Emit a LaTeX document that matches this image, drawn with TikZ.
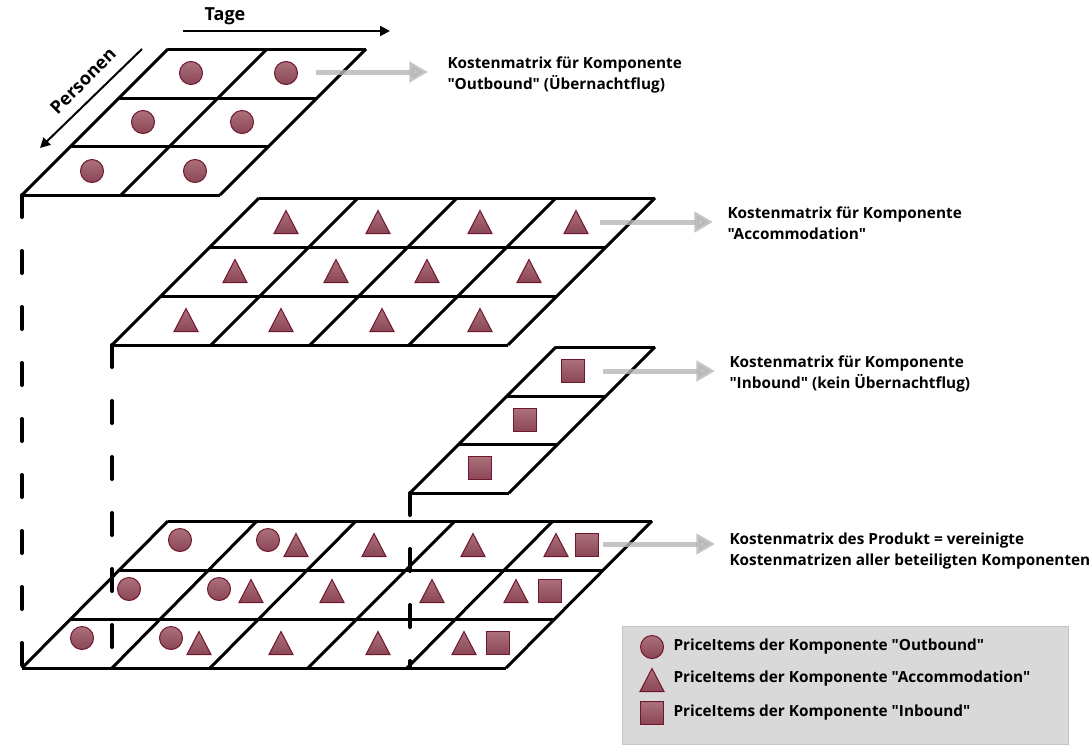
\documentclass[tikz,border=0pt]{standalone}
\usepackage{fontspec}
\setmainfont{Open Sans}[Ligatures=TeXOff]
\usetikzlibrary{arrows.meta}

\definecolor{mkTop}{RGB}{172,112,124}
\definecolor{mkBot}{RGB}{138,70,86}
\definecolor{mkLine}{RGB}{112,22,44}
\definecolor{arrGray}{RGB}{182,182,182}
\definecolor{lgFill}{RGB}{217,217,217}
\definecolor{lgLine}{RGB}{196,196,196}

\tikzset{every picture/.style={line width=0.75pt}}

\begin{document}
\begin{tikzpicture}[x=0.75pt,y=0.75pt,yscale=-1,xscale=1,
  gridln/.style={line width=2.25pt},
  dashln/.style={line width=3pt,line cap=round,dash pattern=on 16.5pt off 25.5pt},
  mk/.style={draw=mkLine,line width=0.75pt,top color=mkTop,bottom color=mkBot},
  grayarr/.style={draw=arrGray,opacity=0.8,line width=3.75pt,-{Triangle[length=14pt,width=15pt]}},
  darr/.style={line width=1.5pt,-{Triangle[length=7.5pt,width=7.5pt]}},
  lbl/.style={font=\bfseries\fontsize{11.5}{15.75}\selectfont,align=left,inner sep=0pt,anchor=west},
  ttl/.style={font=\bfseries\fontsize{13.5}{16}\selectfont,inner sep=0pt},
  outb/.pic={\path[mk] (0,0) circle (11.5);},
  accom/.pic={\path[mk] (-12,-11.5) -- (12,-11.5) -- (0,11.5) -- cycle;},
  inb/.pic={\path[mk] (-11.5,-11.5) rectangle (11.5,11.5);}]
\useasboundingbox (0,0) rectangle (1091,750);

%Straight Lines: matrix "Outbound"
\draw[gridln] (168,49) -- (366,49) (119,98) -- (317,98) (71,146) -- (269,146) (22,195) -- (220,195);
\draw[gridln] (168,49) -- (22,195) (267,49) -- (121,195) (366,49) -- (220,195);
%Straight Lines: matrix "Accommodation"
\draw[gridln] (259,198) -- (655,198) (210,247) -- (606,247) (161,296) -- (557,296) (112,345) -- (508,345);
\draw[gridln] (259,198) -- (112,345) (358,198) -- (211,345) (457,198) -- (310,345) (556,198) -- (409,345) (655,198) -- (508,345);
%Straight Lines: matrix "Inbound"
\draw[gridln] (556,347) -- (655,347) (507,396) -- (606,396) (459,444) -- (558,444) (410,493) -- (509,493);
\draw[gridln] (556,347) -- (410,493) (655,347) -- (509,493);
%Straight Lines: matrix of the product
\draw[gridln] (168,521) -- (652,521) (119,570) -- (603,570) (71,619) -- (555,619) (22,668) -- (506,668);
\draw[gridln] (168,521) -- (22,668) (257,521) -- (112,668) (356,521) -- (210,668) (455,521) -- (308,668) (553,521) -- (407,668) (652,521) -- (506,668);
%Dashed Lines
\draw[dashln] (22,195) -- (22,668);
\draw[dashln] (112,345) -- (112,668);
\draw[dashln] (410,493) -- (410,668);

%Shapes: PriceItems "Outbound"
\pic at (191,73) {outb}; \pic at (286,73) {outb};
\pic at (143,122) {outb}; \pic at (242,122) {outb};
\pic at (92,171) {outb}; \pic at (195,171) {outb};
%Shapes: PriceItems "Accommodation"
\pic at (286,222) {accom}; \pic at (378,222) {accom}; \pic at (480,222) {accom}; \pic at (576,222) {accom};
\pic at (235,271) {accom}; \pic at (336,271) {accom}; \pic at (427,271) {accom}; \pic at (529,271) {accom};
\pic at (186,320) {accom}; \pic at (281,320) {accom}; \pic at (382,320) {accom}; \pic at (480,320) {accom};
%Shapes: PriceItems "Inbound"
\pic at (573,371) {inb}; \pic at (525,420) {inb}; \pic at (480,468) {inb};
%Shapes: product
\pic at (180,540) {outb}; \pic at (268,540) {outb}; \pic at (296,545) {accom};
\pic at (374,545) {accom}; \pic at (473,545) {accom}; \pic at (556,545) {accom}; \pic at (587,545) {inb};
\pic at (129,589) {outb}; \pic at (219,589) {outb}; \pic at (251,591) {accom};
\pic at (332,591) {accom}; \pic at (432,591) {accom}; \pic at (516,591) {accom}; \pic at (550,591) {inb};
\pic at (82,638) {outb}; \pic at (171,638) {outb}; \pic at (199,643) {accom};
\pic at (281,643) {accom}; \pic at (378,643) {accom}; \pic at (464,643) {accom}; \pic at (498,643) {inb};

% Text Node
\node[ttl] (tage) at (225,16) {Tage};
% Text Node
\node[ttl,rotate=45] (personen) at (83,81) {Personen};
\coordinate (tageA) at (183,31);
\coordinate (tageB) at (390,31);
\coordinate (persA) at (142,49);
\coordinate (persB) at (40,148);
\draw[darr] (tageA) -- (tageB);
\draw[darr] (persA) -- (persB);

% Text Node
\node[lbl] (ktOut) at (447,75) {Kostenmatrix für Komponente\\"Outbound" (Übernachtflug)};
% Text Node
\node[lbl] (ktAcc) at (727,223) {Kostenmatrix für Komponente\\"Accommodation"};
% Text Node
\node[lbl] (ktIn) at (729,374) {Kostenmatrix für Komponente\\"Inbound" (kein Übernachtflug)};
% Text Node
\node[lbl] (ktProd) at (729,551) {Kostenmatrix des Produkt = vereinigte\\Kostenmatrizen aller beteiligten Komponenten};

%Arrows to the labels
\coordinate (fromOut) at (316,72);
\coordinate (fromAcc) at (600,222);
\coordinate (fromIn) at (603,371);
\coordinate (fromProd) at (603,544);
\draw[grayarr,shorten >=14.25pt] (fromOut) -- (fromOut -| ktOut.west);
\draw[grayarr,shorten >=10.5pt] (fromAcc) -- (fromAcc -| ktAcc.west);
\draw[grayarr,shorten >=10.5pt] (fromIn) -- (fromIn -| ktIn.west);
\draw[grayarr,shorten >=10.5pt] (fromProd) -- (fromProd -| ktProd.west);

%Legend
\draw[fill=lgFill,draw=lgLine] (622,626) rectangle (1068,744);
\pic at (652,647) {outb};
\pic at (652,680) {accom};
\pic at (652,713) {inb};
% Text Node
\node[lbl] (lgOut) at (673,647) {PriceItems der Komponente "Outbound"};
% Text Node
\node[lbl] (lgAcc) at (673,679) {PriceItems der Komponente "Accommodation"};
% Text Node
\node[lbl] (lgIn) at (673,713) {PriceItems der Komponente "Inbound"};

\end{tikzpicture}
\end{document}
